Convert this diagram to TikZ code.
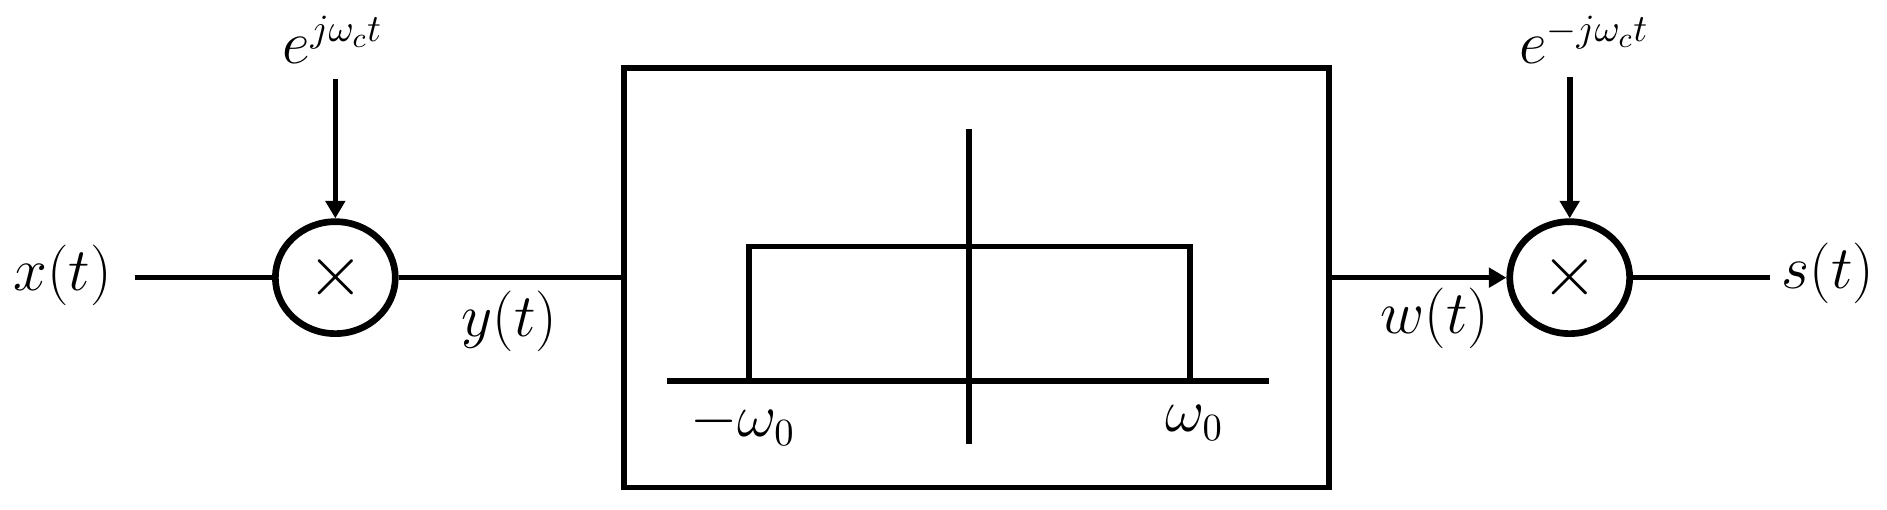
\documentclass[tikz,border=0pt]{standalone}
\usetikzlibrary{arrows.meta,shapes.geometric}
\begin{document}
\begin{tikzpicture}[x=0.012019cm,y=-0.012019cm,line width=1.6pt,
  lbl/.style={font=\fontsize{16}{19}\selectfont,inner sep=0pt},
  mult/.style={draw,ellipse,line width=1.9pt,inner sep=0pt,minimum width=1.2cm,minimum height=1.12cm,font=\fontsize{22}{24}\selectfont},
  filtbox/.style={draw,rectangle,inner sep=0pt,minimum width=7.055cm,minimum height=4.195cm},
  arr/.style={-{Triangle[length=5pt,width=5.5pt]}}]
\useasboundingbox (0,0) rectangle (1570,423.5);
% multipliers and filter
\node[mult] (m1) at (279,231) {$\times$};
\node[mult] (m2) at (1306,231) {$\times$};
\node[filtbox] (filt) at (812.5,231) {};
% labels
\node[lbl] (x) at (52,229) {$x(t)$};
\node[lbl] (y) at (424,267) {$y(t)$};
\node[lbl] (w) at (1194,265) {$w(t)$};
\node[lbl] (s) at (1521,227) {$s(t)$};
\node[lbl] (c1) at (277,33) {$e^{j\omega_c t}$};
\node[lbl] (c2) at (1318,33) {$e^{-j\omega_c t}$};
% free ends
\coordinate (xin) at (112,231);
\coordinate (sout) at (1473,231);
\coordinate (c1s) at (279,66);
\coordinate (c2s) at (1306,64);
% connectors
\draw (xin) -- (m1);
\draw (m1) -- (filt);
\draw[arr] (filt) -- (m2);
\draw (m2) -- (sout);
\draw[arr] (c1s) -- (m1.north);
\draw[arr] (c2s) -- (m2.north);
% frequency response
\draw (555,317) -- (1056,317);
\draw (806,107) -- (806,369);
\draw (623,317) -- (623,205) -- (990,205) -- (990,317);
\node[lbl] (mw0) at (618,352) {$-\omega_0$};
\node[lbl] (pw0) at (994,352) {$\omega_0$};
\end{tikzpicture}
\end{document}
